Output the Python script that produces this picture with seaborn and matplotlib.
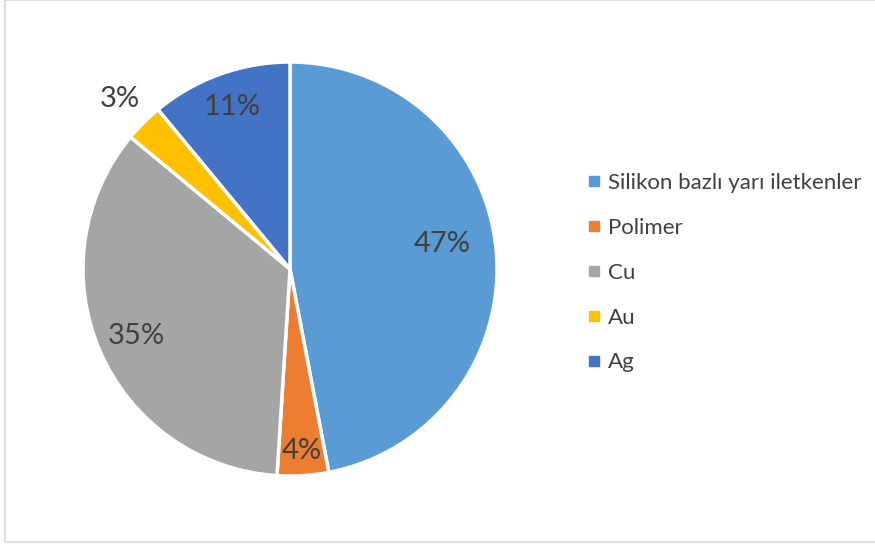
import matplotlib.pyplot as plt
import seaborn as sns
from matplotlib.lines import Line2D
from matplotlib.patches import Rectangle
import numpy as np

labels = ['Silikon bazlı yarı iletkenler', 'Polimer', 'Cu', 'Au', 'Ag']
values = [47, 4, 35, 3, 11]
colors = ['#5B9BD5', '#ED7D31', '#A5A5A5', '#FFC000', '#4472C4']
label_dist = [0.74, 0.88, 0.81, 1.16, 0.83]

sns.set_theme(style='white')
plt.rcParams['font.family'] = ['Lato', 'DejaVu Sans']
text_color = '#404040'

W, H = 875, 546
fig = plt.figure(figsize=(W / 100, H / 100), dpi=100)

cx, cy, r = 290, 269, 207
ax = fig.add_axes([(cx - r) / W, (H - cy - r) / H, 2 * r / W, 2 * r / H])

wedges, texts, autotexts = ax.pie(
    values, colors=colors, startangle=90, counterclock=False,
    autopct='%1.0f%%', pctdistance=0.8,
    wedgeprops=dict(edgecolor='white', linewidth=2.5),
    textprops=dict(color=text_color, fontsize=21))
ax.set_xlim(-1, 1)
ax.set_ylim(-1, 1)
ax.set_aspect('equal')

for w, t, d in zip(wedges, autotexts, label_dist):
    ang = np.deg2rad((w.theta1 + w.theta2) / 2)
    t.set_position((d * np.cos(ang), d * np.sin(ang)))
# Excel nudges the big label a little above the bisector
autotexts[0].set_y(autotexts[0].get_position()[1] + 0.05)

handles = [Line2D([0], [0], marker='s', linestyle='', markersize=7,
                  markerfacecolor=c, markeredgecolor=c) for c in colors]
leg = fig.legend(handles, labels, loc='upper left',
                 bbox_to_anchor=(578 / W, 1 - 164 / H),
                 frameon=False, fontsize=16, labelspacing=1.12,
                 handlelength=0.6, handletextpad=0.35, borderaxespad=0)
for t in leg.get_texts():
    t.set_color(text_color)

fig.patches.append(Rectangle((4.5 / W, 4.5 / H), 1, 1 - 4.5 / H,
                             transform=fig.transFigure, fill=False,
                             edgecolor='#D9D9D9', linewidth=1.2))

fig.savefig('out.png', dpi=100)
